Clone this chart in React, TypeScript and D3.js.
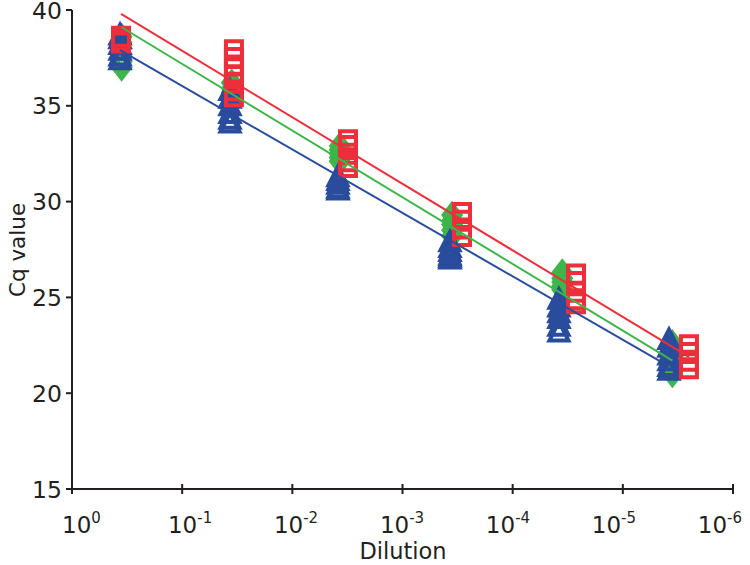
import React from "react";
import * as d3 from "d3";

// Dilution exponents (x position = 10^-exp) for each series' six dilution groups
const blueExp = [0.436, 1.434, 2.414, 3.431, 4.42, 5.419];
const greenExp = [0.45, 1.45, 2.43, 3.45, 4.45, 5.45];
const redExp = [0.445, 1.47, 2.505, 3.54, 4.575, 5.6];

// Cq replicate values per dilution group
const blueCq = [
  [38.7, 38.5, 38.2, 37.9, 37.6, 37.4],
  [35.8, 35.4, 35.0, 34.6, 34.3, 34.1],
  [31.3, 31.1, 30.9, 30.7, 30.6],
  [27.9, 27.6, 27.4, 27.2, 27.1, 27.0],
  [24.9, 24.5, 24.2, 23.9, 23.5, 23.2],
  [22.8, 22.4, 22.0, 21.7, 21.4, 21.2],
];
const greenCq = [
  [38.6, 38.3, 38.0, 37.6, 37.3, 37.0],
  [36.2, 35.9, 35.7, 35.5, 35.3],
  [32.9, 32.7, 32.5, 32.3, 32.1],
  [29.3, 29.0, 28.8, 28.5, 28.2],
  [26.3, 26.0, 25.8, 25.6, 25.4],
  [22.6, 22.3, 21.9, 21.6, 21.3, 21.0],
];
const redCq = [
  [38.6, 38.4, 38.3],
  [37.9, 37.5, 37.1, 36.6, 36.2, 35.8, 35.5],
  [33.2, 32.9, 32.5, 32.1, 31.8],
  [29.4, 29.0, 28.6, 28.2],
  [26.2, 25.8, 25.3, 24.9, 24.7],
  [22.5, 22.1, 21.7, 21.3],
];

// Regression line endpoints (Cq at first and last dilution)
const blueFit = [37.9, 21.4];
const greenFit = [39.1, 21.7];
const redFit = [39.8, 21.9];

const xTickExps = [0, 1, 2, 3, 4, 5, 6];
const yTicks = [15, 20, 25, 30, 35, 40];

const AXIS = "#231f20";
const BLUE = "#2a4c9c";
const GREEN = "#3db54a";
const RED = "#ec2f3b";

const FONT = "Verdana, 'DejaVu Sans', sans-serif";

const shapes: Record<string, string> = {
  triangle: "M0,-10L9.5,8.5L-9.5,8.5Z",
  square: "M-8,-9L8,-9L8,9L-8,9Z",
  diamond: "M0,-11L8.5,0L0,11L-8.5,0Z",
};

export default function App() {
  const x = d3.scaleLog().domain([1, 1e-6]).range([72, 733]);
  const y = d3.scaleLinear().domain([15, 40]).range([489, 10]);

  const series = [
    { exp: greenExp, cq: greenCq, fit: greenFit, color: GREEN, shape: "diamond" },
    { exp: blueExp, cq: blueCq, fit: blueFit, color: BLUE, shape: "triangle" },
    { exp: redExp, cq: redCq, fit: redFit, color: RED, shape: "square" },
  ];
  const lineOrder = [series[1], series[0], series[2]];

  const line = d3
    .line<[number, number]>()
    .x((d) => x(Math.pow(10, -d[0])))
    .y((d) => y(d[1]));

  return (
    <svg
      width={750}
      height={565}
      style={{ position: "absolute", left: 0, top: 0, background: "#fff" }}
      fontFamily={FONT}
    >
      {/* markers */}
      {series.map((s, si) =>
        s.cq.map((grp, gi) =>
          grp.map((v, vi) => (
            <path
              key={`${si}-${gi}-${vi}`}
              d={shapes[s.shape]}
              transform={`translate(${x(Math.pow(10, -s.exp[gi]))},${y(v)})`}
              fill="none"
              stroke={s.color}
              strokeWidth={4}
            />
          ))
        )
      )}
      {/* fit lines */}
      {lineOrder.map((s, i) => (
        <path
          key={`l${i}`}
          d={
            line([
              [s.exp[0], s.fit[0]],
              [s.exp[s.exp.length - 1], s.fit[1]],
            ]) || ""
          }
          stroke={s.color}
          strokeWidth={2}
          fill="none"
        />
      ))}
      {/* y axis */}
      <line x1={72} x2={72} y1={y(40)} y2={y(15)} stroke={AXIS} strokeWidth={2} />
      {yTicks.map((t) => (
        <g key={`yt${t}`}>
          <line x1={66} x2={72} y1={y(t)} y2={y(t)} stroke={AXIS} strokeWidth={2} />
          <text
            x={62}
            y={y(t)}
            dy="0.37em"
            textAnchor="end"
            fontSize={23.5}
            fill={AXIS}
          >
            {t}
          </text>
        </g>
      ))}
      {/* x axis */}
      <line x1={72} x2={x(1e-6)} y1={489} y2={489} stroke={AXIS} strokeWidth={2} />
      {xTickExps.map((e) => {
        const px = x(Math.pow(10, -e));
        return (
          <g key={`xt${e}`}>
            <line x1={px} x2={px} y1={484} y2={494} stroke={AXIS} strokeWidth={2} />
            <text
              x={px - 10 - 4.2 * e}
              y={533}
              textAnchor="start"
              fontSize={23}
              fill={AXIS}
            >
              10
              <tspan fontSize={15} dy={-10}>
                {e === 0 ? "0" : `-${e}`}
              </tspan>
            </text>
          </g>
        );
      })}
      <text x={403} y={559} textAnchor="middle" fontSize={22.5} fill={AXIS}>
        Dilution
      </text>
      <text
        transform="translate(25,250) rotate(-90)"
        textAnchor="middle"
        fontSize={21.5}
        fill={AXIS}
      >
        Cq value
      </text>
    </svg>
  );
}
